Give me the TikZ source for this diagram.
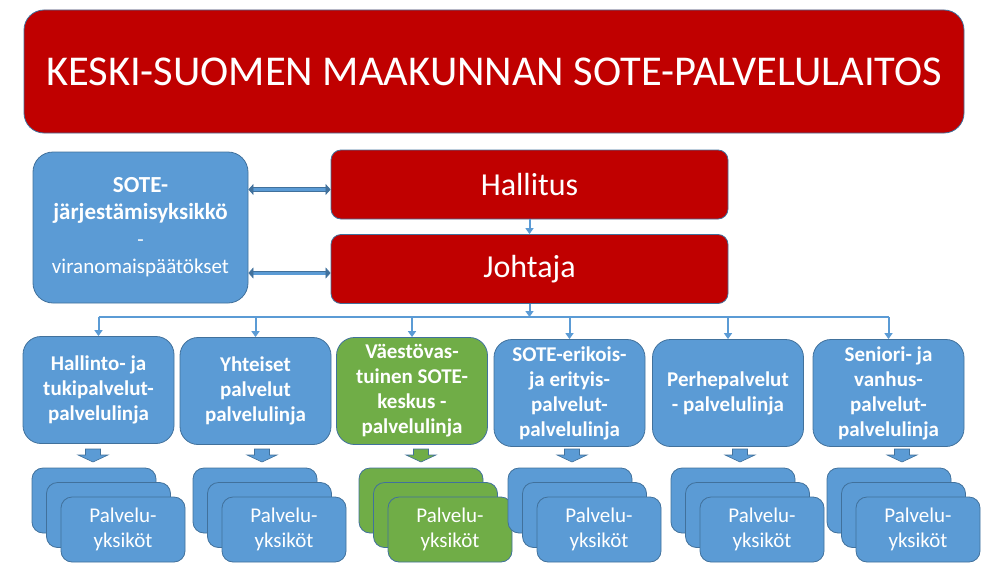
\documentclass[tikz,border=0pt]{standalone}
\usepackage{fontspec}
\setmainfont{Carlito}
\usetikzlibrary{calc}
\usetikzlibrary{arrows.meta}

\definecolor{sotered}{HTML}{C00000}
\definecolor{soteblue}{HTML}{5B9BD5}
\definecolor{sotegreen}{HTML}{70AD47}
\definecolor{soteedge}{HTML}{41719C}

\begin{document}
\begin{tikzpicture}[x=1pt,y=-1pt,
    box/.style={draw=soteedge,line width=0.8pt,text=white,align=center,inner sep=0pt},
    redbox/.style={box,fill=sotered,rounded corners=10pt,minimum width=397pt,minimum height=69pt,
        font=\fontsize{32}{38}\selectfont},
    linebox/.style={box,fill=soteblue,rounded corners=18pt,minimum width=151pt,minimum height=107pt,
        font=\fontsize{21}{25}\selectfont\bfseries},
    card/.style={box,rounded corners=11pt,minimum width=124pt,minimum height=65pt,
        font=\fontsize{21}{25}\selectfont},
    down/.style={draw=soteedge,line width=0.6pt,line join=miter},
    conn/.style={draw=soteblue,line width=2pt,-{Triangle[width=8pt,length=6pt]}},
    twoway/.style={draw=soteedge,double=soteblue,double distance=3pt,line width=0.6pt,
        {Triangle[width=11pt,length=5pt]}-{Triangle[width=11pt,length=5pt]}}]

    \useasboundingbox (0,0) rectangle (984,586);

    % Place the top nodes
    \node[box,fill=sotered,rounded corners=20pt,minimum width=940pt,minimum height=123pt,
        font=\fontsize{42.5}{48}\selectfont] (laitos) at (494,71.5) {KESKI-SUOMEN MAAKUNNAN SOTE-PALVELULAITOS};
    \node[box,fill=soteblue,rounded corners=20pt,minimum width=215pt,minimum height=151pt,
        font=\fontsize{21}{27}\selectfont] (jarj) at (140.5,227.5)
        {{\bfseries\fontsize{23}{27}\selectfont SOTE-}\\{\bfseries\fontsize{23}{27}\selectfont järjestämisyksikkö}\\-\\viranomaispäätökset};
    \node[redbox] (hal) at (529.5,184.5) {Hallitus};
    \node[redbox] (joh) at (529.5,269) {Johtaja};

    % Place the service lines
    \node[linebox] (l1) at (98.5,390) {Hallinto- ja\\tukipalvelut-\\palvelulinja};
    \node[linebox] (l2) at (255.5,391) {Yhteiset\\palvelut\\palvelulinja};
    \node[linebox,fill=sotegreen] (l3) at (412,391) {Väestövas-\\tuinen SOTE-\\keskus -\\palvelulinja};
    \node[linebox] (l4) at (569.5,393) {SOTE-erikois-\\ja erityis-\\palvelut-\\palvelulinja};
    \node[linebox] (l5) at (728,393) {Perhepalvelut\\- palvelulinja};
    \node[linebox] (l6) at (888.5,393) {Seniori- ja\\vanhus-\\palvelut-\\palvelulinja};

    % Place the units under each line
    \foreach \n/\x/\c in {1/93/soteblue,2/262/soteblue,3/421/sotegreen,4/572/soteblue,5/740/soteblue,6/902/soteblue} {
        \coordinate (d\n) at (\x,449);
        \draw[down,fill=\c] (d\n) ++(-7.5,0) -- ++(15,0) -- ++(0,6) -- ++(7.5,0) -- ++(-15,7)
            -- ++(-15,-7) -- ++(7.5,0) -- cycle;
    }
    \foreach \n/\x/\c in {1/94/soteblue,2/255/soteblue,3/421/sotegreen,4/570/soteblue,5/733/soteblue,6/889/soteblue} {
        \node[card,fill=\c] (u\n a) at (\x,500.5) {};
        \node[card,fill=\c] (u\n b) at ({\x+14.5},515) {};
        \node[card,fill=\c] (u\n c) at ({\x+29},529.5) {Palvelu-\\yksiköt};
    }

    % Draw the connectors
    \draw[twoway] ($(jarj.east |- hal)+(0,5)$) -- ($(hal.west)+(0,5)$);
    \draw[twoway] ($(jarj.east |- joh)+(0,4)$) -- ($(joh.west)+(0,4)$);
    \draw[conn] (hal.south) -- (joh.north);
    \coordinate (bus) at (529.5,317);
    \draw[conn] (joh.south) -- (bus);
    \draw[draw=soteblue,line width=2pt] (l1.north |- bus) -- (l6.north |- bus);
    \foreach \n in {1,...,6} {
        \draw[conn] (l\n.north |- bus) -- (l\n.north);
    }

\end{tikzpicture}
\end{document}
